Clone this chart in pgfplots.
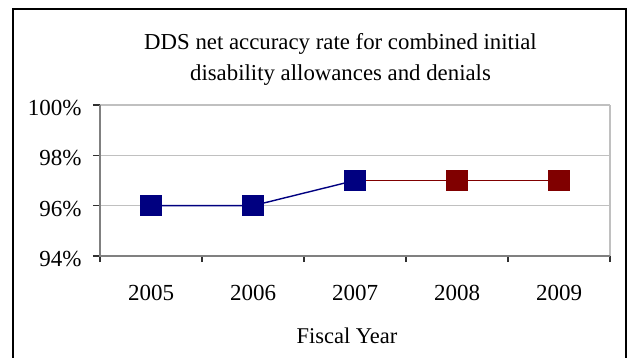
\documentclass[border=0pt]{standalone}
\usepackage{pgfplots}
\pgfplotsset{compat=1.18}
\usepackage{fontspec}
\setmainfont{Liberation Serif}
\definecolor{navyc}{HTML}{000080}
\definecolor{maroonc}{HTML}{800000}
\definecolor{gridc}{HTML}{C0C0C0}
\definecolor{axc}{HTML}{808080}
\definecolor{tickc}{HTML}{303030}
\begin{document}
\begin{tikzpicture}
\path[use as bounding box] (0pt,0pt) rectangle (631pt,-358pt);
\draw[black, line width=2.2pt] (13pt,-362pt) -- (13pt,-9pt) -- (626pt,-9pt) -- (626pt,-362pt);
\node[anchor=base, font=\fontsize{22.8}{23}\selectfont] at (340.5pt,-50pt) {DDS net accuracy rate for combined initial};
\node[anchor=base, font=\fontsize{22.8}{23}\selectfont] at (340.5pt,-81pt) {disability allowances and denials};
\begin{axis}[
  at={(100pt,-256pt)}, anchor=south west,
  scale only axis, width=510pt, height=151pt,
  xmin=-0.5, xmax=4.5, ymin=94, ymax=100,
  ytick={94,96,98,100}, yticklabels={94\%,96\%,98\%,100\%},
  xtick={0,1,2,3,4}, xticklabels={2005,2006,2007,2008,2009},
  minor xtick={-0.5,0.5,1.5,2.5,3.5,4.5},
  major x tick style={draw=none},
  minor tick length=6pt, major tick length=7pt,
  tick align=outside, tick pos=left,
  axis line style={draw=none},
  ymajorgrids, grid style={gridc, line width=1.3pt},
  tick style={tickc, line width=1.4pt},
  ticklabel style={font=\fontsize{23}{23}\selectfont},
  xticklabel style={anchor=base, yshift=-37pt},
  yticklabel style={anchor=east, xshift=-8pt, yshift=-3pt},
  xlabel={Fiscal Year},
  xlabel style={at={(axis description cs:0.5,0)}, anchor=base, xshift=-8pt, yshift=-87pt, font=\fontsize{22.5}{23}\selectfont},
  clip=false,
]
\draw[gridc, line width=1.3pt] (rel axis cs:1,0) -- (rel axis cs:1,1);
\draw[axc, line width=2pt] (rel axis cs:0,1) -- (rel axis cs:0,0) -- (rel axis cs:1,0);
\addplot[maroonc, line width=1.4pt, mark=square*, mark size=10pt, mark options={draw=none, fill=maroonc}]
  coordinates {(2,97) (3,97) (4,97)};
\addplot[navyc, line width=1.4pt, mark=square*, mark size=10pt, mark options={draw=none, fill=navyc}]
  coordinates {(0,96) (1,96) (2,97)};
\end{axis}
\end{tikzpicture}
\end{document}
